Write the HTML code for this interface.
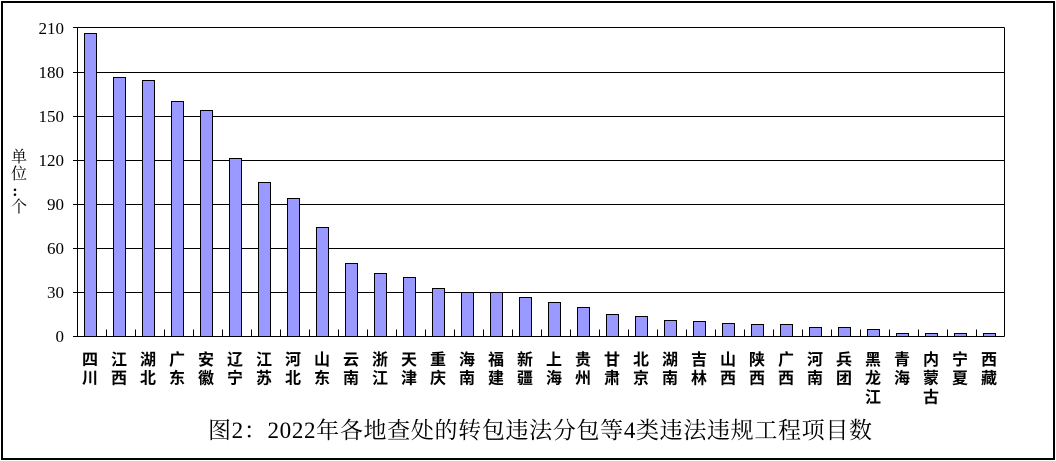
<!DOCTYPE html>
<html><head><meta charset="utf-8"><style>
html,body{margin:0;padding:0;background:#fff;}
svg{display:block;}
.tk{font-family:"Liberation Serif","Noto Serif CJK SC",serif;font-size:17px;fill:#000;}
.cat{font-family:"Liberation Sans","Noto Sans CJK SC",sans-serif;font-size:16px;font-weight:bold;fill:#000;}
.yl{font-family:"Liberation Serif","Noto Serif CJK SC",serif;font-size:16px;fill:#000;}
.ti{font-family:"Liberation Serif","Noto Serif CJK SC",serif;font-size:23px;fill:#000;}
</style></head><body>
<svg width="1056" height="461" viewBox="0 0 1056 461" xmlns="http://www.w3.org/2000/svg">
<rect x="0" y="0" width="1056" height="461" fill="#fff"/>
<rect x="2" y="2" width="1052" height="457" fill="none" stroke="#000" stroke-width="2"/>
<g stroke="#000" stroke-width="1">
<line x1="73" y1="27.5" x2="1004.5" y2="27.5"/>
<line x1="73" y1="72.5" x2="1004.5" y2="72.5"/>
<line x1="73" y1="116.5" x2="1004.5" y2="116.5"/>
<line x1="73" y1="160.5" x2="1004.5" y2="160.5"/>
<line x1="73" y1="204.5" x2="1004.5" y2="204.5"/>
<line x1="73" y1="248.5" x2="1004.5" y2="248.5"/>
<line x1="73" y1="292.5" x2="1004.5" y2="292.5"/>
<line x1="1004.5" y1="27.5" x2="1004.5" y2="336.5"/>
</g>
<g fill="#9999FF" stroke="#000" stroke-width="1">
<rect x="84.5" y="33.5" width="12" height="303"/>
<rect x="113.5" y="77.5" width="12" height="259"/>
<rect x="142.5" y="80.5" width="12" height="256"/>
<rect x="171.5" y="101.5" width="12" height="235"/>
<rect x="200.5" y="110.5" width="12" height="226"/>
<rect x="229.5" y="158.5" width="12" height="178"/>
<rect x="258.5" y="182.5" width="12" height="154"/>
<rect x="287.5" y="198.5" width="12" height="138"/>
<rect x="316.5" y="227.5" width="12" height="109"/>
<rect x="345.5" y="263.5" width="12" height="73"/>
<rect x="374.5" y="273.5" width="12" height="63"/>
<rect x="403.5" y="277.5" width="12" height="59"/>
<rect x="432.5" y="288.5" width="12" height="48"/>
<rect x="461.5" y="292.5" width="12" height="44"/>
<rect x="490.5" y="292.5" width="12" height="44"/>
<rect x="519.5" y="297.5" width="12" height="39"/>
<rect x="548.5" y="302.5" width="12" height="34"/>
<rect x="577.5" y="307.5" width="12" height="29"/>
<rect x="606.5" y="314.5" width="12" height="22"/>
<rect x="635.5" y="316.5" width="12" height="20"/>
<rect x="664.5" y="320.5" width="12" height="16"/>
<rect x="693.5" y="321.5" width="12" height="15"/>
<rect x="722.5" y="323.5" width="12" height="13"/>
<rect x="751.5" y="324.5" width="12" height="12"/>
<rect x="780.5" y="324.5" width="12" height="12"/>
<rect x="809.5" y="327.5" width="12" height="9"/>
<rect x="838.5" y="327.5" width="12" height="9"/>
<rect x="867.5" y="329.5" width="12" height="7"/>
<rect x="896.5" y="333.5" width="12" height="3"/>
<rect x="925.5" y="333.5" width="12" height="3"/>
<rect x="954.5" y="333.5" width="12" height="3"/>
<rect x="983.5" y="333.5" width="12" height="3"/>
</g>
<g stroke="#000" stroke-width="1">
<line x1="73" y1="336.5" x2="1004.5" y2="336.5"/>
<line x1="77.5" y1="27.5" x2="77.5" y2="336.5"/>
<path d="M106.5 329.5V336.5M135.5 329.5V336.5M164.5 329.5V336.5M193.5 329.5V336.5M222.5 329.5V336.5M251.5 329.5V336.5M280.5 329.5V336.5M309.5 329.5V336.5M338.5 329.5V336.5M367.5 329.5V336.5M396.5 329.5V336.5M425.5 329.5V336.5M454.5 329.5V336.5M483.5 329.5V336.5M512.5 329.5V336.5M541.5 329.5V336.5M570.5 329.5V336.5M599.5 329.5V336.5M628.5 329.5V336.5M657.5 329.5V336.5M686.5 329.5V336.5M715.5 329.5V336.5M744.5 329.5V336.5M773.5 329.5V336.5M802.5 329.5V336.5M831.5 329.5V336.5M860.5 329.5V336.5M889.5 329.5V336.5M918.5 329.5V336.5M947.5 329.5V336.5M976.5 329.5V336.5"/>
</g>
<g class="tk" text-anchor="end">
<text x="64" y="34">210</text>
<text x="64" y="78">180</text>
<text x="64" y="122">150</text>
<text x="64" y="166">120</text>
<text x="64" y="210">90</text>
<text x="64" y="254">60</text>
<text x="64" y="298">30</text>
<text x="64" y="342">0</text>
</g>
<g class="yl" text-anchor="middle">
<text x="19" y="162">单</text>
<text x="19" y="179">位</text>
<text x="15" y="196" font-weight="bold">:</text>
<text x="19" y="212">个</text>
</g>
<g class="cat" text-anchor="middle">
<text x="90" y="365"><tspan x="90">四</tspan><tspan x="90" dy="18.7">川</tspan></text>
<text x="119" y="365"><tspan x="119">江</tspan><tspan x="119" dy="18.7">西</tspan></text>
<text x="148" y="365"><tspan x="148">湖</tspan><tspan x="148" dy="18.7">北</tspan></text>
<text x="177" y="365"><tspan x="177">广</tspan><tspan x="177" dy="18.7">东</tspan></text>
<text x="206" y="365"><tspan x="206">安</tspan><tspan x="206" dy="18.7">徽</tspan></text>
<text x="235" y="365"><tspan x="235">辽</tspan><tspan x="235" dy="18.7">宁</tspan></text>
<text x="264" y="365"><tspan x="264">江</tspan><tspan x="264" dy="18.7">苏</tspan></text>
<text x="293" y="365"><tspan x="293">河</tspan><tspan x="293" dy="18.7">北</tspan></text>
<text x="322" y="365"><tspan x="322">山</tspan><tspan x="322" dy="18.7">东</tspan></text>
<text x="351" y="365"><tspan x="351">云</tspan><tspan x="351" dy="18.7">南</tspan></text>
<text x="380" y="365"><tspan x="380">浙</tspan><tspan x="380" dy="18.7">江</tspan></text>
<text x="409" y="365"><tspan x="409">天</tspan><tspan x="409" dy="18.7">津</tspan></text>
<text x="438" y="365"><tspan x="438">重</tspan><tspan x="438" dy="18.7">庆</tspan></text>
<text x="467" y="365"><tspan x="467">海</tspan><tspan x="467" dy="18.7">南</tspan></text>
<text x="496" y="365"><tspan x="496">福</tspan><tspan x="496" dy="18.7">建</tspan></text>
<text x="525" y="365"><tspan x="525">新</tspan><tspan x="525" dy="18.7">疆</tspan></text>
<text x="554" y="365"><tspan x="554">上</tspan><tspan x="554" dy="18.7">海</tspan></text>
<text x="583" y="365"><tspan x="583">贵</tspan><tspan x="583" dy="18.7">州</tspan></text>
<text x="612" y="365"><tspan x="612">甘</tspan><tspan x="612" dy="18.7">肃</tspan></text>
<text x="641" y="365"><tspan x="641">北</tspan><tspan x="641" dy="18.7">京</tspan></text>
<text x="670" y="365"><tspan x="670">湖</tspan><tspan x="670" dy="18.7">南</tspan></text>
<text x="699" y="365"><tspan x="699">吉</tspan><tspan x="699" dy="18.7">林</tspan></text>
<text x="728" y="365"><tspan x="728">山</tspan><tspan x="728" dy="18.7">西</tspan></text>
<text x="757" y="365"><tspan x="757">陕</tspan><tspan x="757" dy="18.7">西</tspan></text>
<text x="786" y="365"><tspan x="786">广</tspan><tspan x="786" dy="18.7">西</tspan></text>
<text x="815" y="365"><tspan x="815">河</tspan><tspan x="815" dy="18.7">南</tspan></text>
<text x="844" y="365"><tspan x="844">兵</tspan><tspan x="844" dy="18.7">团</tspan></text>
<text x="873" y="365"><tspan x="873">黑</tspan><tspan x="873" dy="18.7">龙</tspan><tspan x="873" dy="18.7">江</tspan></text>
<text x="902" y="365"><tspan x="902">青</tspan><tspan x="902" dy="18.7">海</tspan></text>
<text x="931" y="365"><tspan x="931">内</tspan><tspan x="931" dy="18.7">蒙</tspan><tspan x="931" dy="18.7">古</tspan></text>
<text x="960" y="365"><tspan x="960">宁</tspan><tspan x="960" dy="18.7">夏</tspan></text>
<text x="989" y="365"><tspan x="989">西</tspan><tspan x="989" dy="18.7">藏</tspan></text>
</g>
<text class="ti" x="208" y="438" textLength="664" lengthAdjust="spacing">图2：2022年各地查处的转包违法分包等4类违法违规工程项目数</text>
</svg>
</body></html>
